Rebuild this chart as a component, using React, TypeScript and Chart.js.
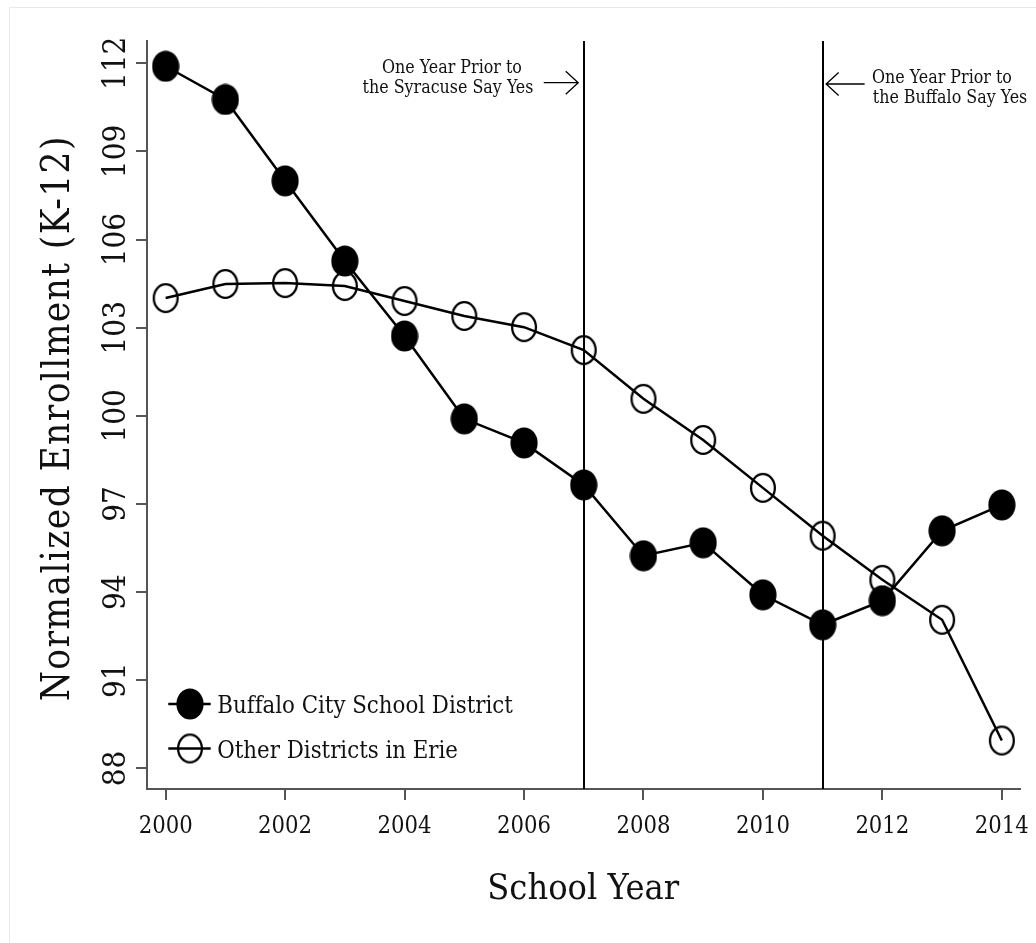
import React, { useEffect, useRef } from "react";
import { Chart, registerables } from "chart.js";

Chart.register(...registerables);

// ---------- data ----------
const years = [2000, 2001, 2002, 2003, 2004, 2005, 2006, 2007, 2008, 2009, 2010, 2011, 2012, 2013, 2014];
const buffaloValues = [111.9, 110.77, 108.0, 105.27, 102.72, 99.9, 99.08, 97.65, 95.24, 95.68, 93.91, 92.89, 93.71, 96.09, 96.97];
const otherValues = [104.01, 104.49, 104.52, 104.42, 103.91, 103.4, 103.02, 102.24, 100.58, 99.18, 97.55, 95.92, 94.42, 93.06, 88.95];
const xTickValues = [2000, 2002, 2004, 2006, 2008, 2010, 2012, 2014];
const yTickValues = [88, 91, 94, 97, 100, 103, 106, 109, 112];
const eventYears = [2007, 2011];
const seriesNames = ["Buffalo City School District", "Other Districts in Erie"];
const xTitle = "School Year";
const yTitle = "Normalized Enrollment (K-12)";
const noteLeft = ["One Year Prior to", "the Syracuse Say Yes"];
const noteRight = ["One Year Prior to", "the Buffalo Say Yes"];

const W = 1036;
const H = 943;

function hasFont(name: string): boolean {
  const c = document.createElement("canvas").getContext("2d")!;
  const sample = "abcdefghijklmnopWMWiil0123";
  c.font = "40px monospace";
  const a = c.measureText(sample).width;
  c.font = `40px "${name}", monospace`;
  const b = c.measureText(sample).width;
  return Math.abs(a - b) > 0.5;
}

function makeMarker(filled: boolean): HTMLCanvasElement {
  const cv = document.createElement("canvas");
  if (filled) {
    cv.width = 28;
    cv.height = 32;
    const c = cv.getContext("2d")!;
    c.beginPath();
    c.ellipse(14, 16, 13.6, 15.6, 0, 0, Math.PI * 2);
    c.fillStyle = "#000";
    c.fill();
  } else {
    cv.width = 28;
    cv.height = 32;
    const c = cv.getContext("2d")!;
    c.beginPath();
    c.ellipse(14, 16, 11.9, 13.9, 0, 0, Math.PI * 2);
    c.lineWidth = 2.3;
    c.strokeStyle = "#000";
    c.stroke();
  }
  return cv;
}

type TStyle = { size: number; spacing: number };

export default function App() {
  const ref = useRef<HTMLCanvasElement>(null);

  useEffect(() => {
    const canvas = ref.current!;
    const mctx = document.createElement("canvas").getContext("2d")!;
    const family = hasFont("DejaVu Serif Condensed")
      ? '"DejaVu Serif Condensed", "DejaVu Serif", serif'
      : '"DejaVu Serif", "Liberation Serif", serif';

    const styleFor = (text: string, targetW: number, capH: number): TStyle => {
      mctx.font = `100px ${family}`;
      const w100 = mctx.measureText(text).width;
      const fitSize = (100 * targetW) / w100;
      const capSize = capH / 0.729;
      const size = Math.min(fitSize, capSize);
      const spacing = Math.max(0, (targetW - (w100 * size) / 100) / Math.max(1, text.length - 1));
      return { size, spacing };
    };

    const sXTick = styleFor("2014", 54, 18.3);
    const sYTick = styleFor("112", 53.4, 23.3);
    const sYTitle = styleFor(yTitle, 565, 28);
    const sXTitle = styleFor(xTitle, 192, 40);
    const sLegend = styleFor(seriesNames[0], 295, 18);
    const sNote = styleFor(noteLeft[0], 140, 14);

    const filledMarker = makeMarker(true);
    const hollowMarker = makeMarker(false);

    const text = (
      ctx: CanvasRenderingContext2D,
      str: string,
      x: number,
      y: number,
      st: TStyle,
      align: CanvasTextAlign,
      rotate = false
    ) => {
      ctx.save();
      ctx.font = `${st.size}px ${family}`;
      (ctx as any).letterSpacing = `${st.spacing}px`;
      ctx.fillStyle = "#111";
      ctx.textBaseline = "alphabetic";
      ctx.textAlign = align;
      ctx.translate(x, y);
      if (rotate) ctx.rotate(-Math.PI / 2);
      let dx = 0;
      if (align === "center") dx = st.spacing / 2;
      ctx.fillText(str, dx, 0);
      ctx.restore();
    };

    const arrow = (ctx: CanvasRenderingContext2D, x0: number, x1: number, y: number) => {
      const dir = Math.sign(x1 - x0);
      ctx.save();
      ctx.strokeStyle = "#000";
      ctx.lineWidth = 1.3;
      ctx.beginPath();
      ctx.moveTo(x0, y);
      ctx.lineTo(x1, y);
      ctx.moveTo(x1 - dir * 12.5, y - 11.5);
      ctx.lineTo(x1, y);
      ctx.lineTo(x1 - dir * 12.5, y + 11.5);
      ctx.stroke();
      ctx.restore();
    };

    const custom = {
      id: "customDraw",
      beforeDraw(chart: any) {
        const ctx: CanvasRenderingContext2D = chart.ctx;
        ctx.save();
        ctx.fillStyle = "#fff";
        ctx.fillRect(0, 0, W, H);
        ctx.strokeStyle = "#e8e8e8";
        ctx.lineWidth = 1;
        ctx.beginPath();
        ctx.moveTo(9.5, H);
        ctx.lineTo(9.5, 7.5);
        ctx.lineTo(W, 7.5);
        ctx.stroke();
        ctx.restore();
      },
      beforeDatasetsDraw(chart: any) {
        const ctx: CanvasRenderingContext2D = chart.ctx;
        const xs = chart.scales.x;
        const area = chart.chartArea;
        ctx.save();
        ctx.strokeStyle = "#000";
        ctx.lineWidth = 2;
        eventYears.forEach((yr) => {
          const px = Math.round(xs.getPixelForValue(yr));
          ctx.beginPath();
          ctx.moveTo(px, area.top);
          ctx.lineTo(px, area.bottom);
          ctx.stroke();
        });
        ctx.restore();
      },
      afterDraw(chart: any) {
        const ctx: CanvasRenderingContext2D = chart.ctx;
        const xs = chart.scales.x;
        const ys = chart.scales.y;
        const area = chart.chartArea;

        // x tick labels
        xTickValues.forEach((v) => {
          text(ctx, String(v), xs.getPixelForValue(v), 833, sXTick, "center");
        });
        // y tick labels (rotated)
        yTickValues.forEach((v) => {
          text(ctx, String(v), 125, ys.getPixelForValue(v), sYTick, "center", true);
        });
        // axis titles
        text(ctx, yTitle, 68.5, (area.top + area.bottom) / 2 + 4, sYTitle, "center", true);
        text(ctx, xTitle, (area.left + area.right) / 2, 899, sXTitle, "center");

        // legend
        const rows = [
          { name: seriesNames[0], marker: filledMarker, cy: 704 },
          { name: seriesNames[1], marker: hollowMarker, cy: 748.5 },
        ];
        rows.forEach((r) => {
          ctx.save();
          ctx.strokeStyle = "#000";
          ctx.lineWidth = 2.5;
          ctx.beginPath();
          ctx.moveTo(168.3, r.cy);
          ctx.lineTo(210.7, r.cy);
          ctx.stroke();
          ctx.drawImage(r.marker, 190 - r.marker.width / 2, r.cy - r.marker.height / 2);
          ctx.restore();
          text(ctx, r.name, 217.3, r.cy + 9.3, sLegend, "left");
        });

        // annotations
        const xL = xs.getPixelForValue(eventYears[0]);
        const xR = xs.getPixelForValue(eventYears[1]);
        text(ctx, noteLeft[0], 452, 73.3, sNote, "center");
        text(ctx, noteLeft[1], 448, 93.3, sNote, "center");
        arrow(ctx, xL - 40, xL - 5.5, 82.7);
        text(ctx, noteRight[0], 942, 83.3, sNote, "center");
        text(ctx, noteRight[1], 950, 103.3, sNote, "center");
        arrow(ctx, xR + 42, xR + 3.5, 84);
      },
    };

    const axisCommon = {
      grid: {
        display: true,
        drawOnChartArea: false,
        drawTicks: true,
        tickLength: 11,
        color: "#555",
        lineWidth: 2,
      },
      border: { display: true, color: "#555", width: 2 },
    };

    const chart = new Chart(canvas, {
      type: "line",
      data: {
        datasets: [
          {
            label: seriesNames[0],
            data: years.map((x, i) => ({ x, y: buffaloValues[i] })),
            borderColor: "#000",
            backgroundColor: "#000",
            borderWidth: 2.5,
            pointStyle: filledMarker as any,
            pointRadius: 14,
            tension: 0,
            fill: false,
            clip: false as any,
          },
          {
            label: seriesNames[1],
            data: years.map((x, i) => ({ x, y: otherValues[i] })),
            borderColor: "#000",
            backgroundColor: "transparent",
            borderWidth: 2.5,
            pointStyle: hollowMarker as any,
            pointRadius: 14,
            tension: 0,
            fill: false,
            clip: false as any,
          },
        ],
      },
      options: {
        responsive: false,
        animation: false,
        devicePixelRatio: 1,
        events: [],
        layout: { padding: { left: 0, right: 14, top: 41, bottom: 0 } },
        plugins: {
          legend: { display: false },
          tooltip: { enabled: false },
          title: { display: false },
        },
        scales: {
          x: {
            type: "linear",
            min: 1999.688,
            max: 2014.296,
            afterBuildTicks: (s: any) => {
              s.ticks = xTickValues.map((v) => ({ value: v }));
            },
            afterFit: (s: any) => {
              s.height = 154;
            },
            ticks: { display: false },
            ...axisCommon,
          },
          y: {
            type: "linear",
            min: 87.3,
            max: 112.76,
            afterBuildTicks: (s: any) => {
              s.ticks = yTickValues.map((v) => ({ value: v }));
            },
            afterFit: (s: any) => {
              s.width = 147;
            },
            ticks: { display: false },
            ...axisCommon,
          },
        },
      } as any,
      plugins: [custom],
    });

    return () => chart.destroy();
  }, []);

  return (
    <canvas
      ref={ref}
      width={W}
      height={H}
      style={{ position: "absolute", left: 0, top: 0, display: "block" }}
    />
  );
}
